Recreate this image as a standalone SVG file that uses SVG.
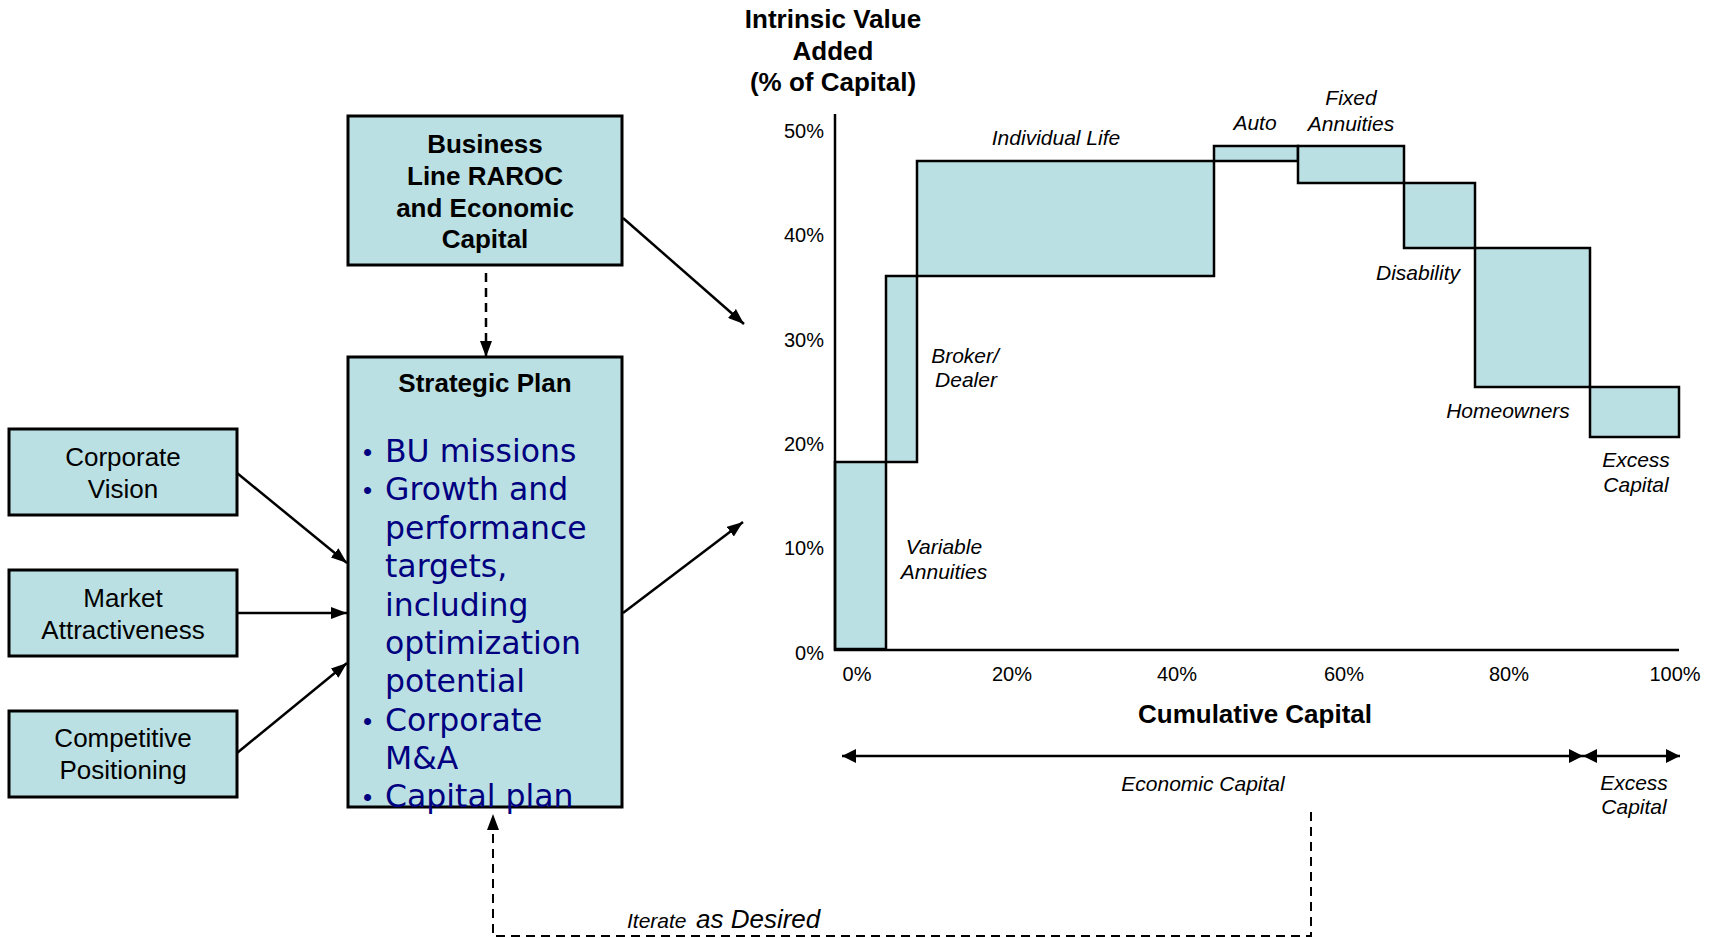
<svg xmlns="http://www.w3.org/2000/svg" width="1717" height="938" viewBox="0 0 1717 938">
<defs>
<style>
.box{fill:#BBE0E3;stroke:#000;stroke-width:3}
.bar{fill:#BBE0E3;stroke:#000;stroke-width:2.5}
.b{font-family:"Liberation Sans",Arial,sans-serif;font-weight:bold;font-size:26px;fill:#000;text-anchor:middle}
.r{font-family:"Liberation Sans",Arial,sans-serif;font-size:26px;fill:#000;text-anchor:middle}
.t{font-family:"Liberation Sans",Arial,sans-serif;font-size:20px;fill:#000}
.i{font-family:"Liberation Sans",Arial,sans-serif;font-style:italic;font-size:21px;fill:#000;text-anchor:middle}
.bl{font-family:"DejaVu Sans",Verdana,sans-serif;font-size:31.5px;fill:#000080}
.dot{font-family:"Liberation Sans",Arial,sans-serif;font-size:26px;fill:#000080}
.ln{stroke:#000;stroke-width:2.5;fill:none}
.dash{stroke:#000;stroke-width:2;fill:none;stroke-dasharray:9 6}
</style>
<marker id="ah" viewBox="0 0 16 12" refX="16" refY="6" markerWidth="16" markerHeight="12" markerUnits="userSpaceOnUse" orient="auto-start-reverse"><path d="M0,0 L16,6 L0,12 z" fill="#000"/></marker>
<marker id="ah2" viewBox="0 0 14 14" refX="14" refY="7" markerWidth="14" markerHeight="14" markerUnits="userSpaceOnUse" orient="auto-start-reverse"><path d="M0,0 L14,7 L0,14 z" fill="#000"/></marker>
</defs>

<g id="business">
<rect class="box" x="348" y="116" width="274" height="149"/>
<text class="b" x="485" y="153">Business</text>
<text class="b" x="485" y="185">Line RAROC</text>
<text class="b" x="485" y="217">and Economic</text>
<text class="b" x="485" y="248">Capital</text>
</g>

<g id="strategic">
<rect class="box" x="348" y="357" width="274" height="450"/>
<text class="b" x="485" y="392">Strategic Plan</text>
<text class="dot" x="363" y="461">•</text>
<text class="bl" x="385" y="462">BU missions</text>
<text class="dot" x="363" y="499">•</text>
<text class="bl" x="385" y="500">Growth and</text>
<text class="bl" x="385" y="539">performance</text>
<text class="bl" x="385" y="577">targets,</text>
<text class="bl" x="385" y="616">including</text>
<text class="bl" x="385" y="654">optimization</text>
<text class="bl" x="385" y="692">potential</text>
<text class="dot" x="363" y="730">•</text>
<text class="bl" x="385" y="731">Corporate</text>
<text class="bl" x="385" y="769">M&amp;A</text>
<text class="dot" x="363" y="806">•</text>
<text class="bl" x="385" y="807">Capital plan</text>
</g>

<g id="vision">
<rect class="box" x="9" y="429" width="228" height="86"/>
<text class="r" x="123" y="466">Corporate</text>
<text class="r" x="123" y="498">Vision</text>
</g>
<g id="market">
<rect class="box" x="9" y="570" width="228" height="86"/>
<text class="r" x="123" y="607">Market</text>
<text class="r" x="123" y="639">Attractiveness</text>
</g>
<g id="competitive">
<rect class="box" x="9" y="711" width="228" height="86"/>
<text class="r" x="123" y="747">Competitive</text>
<text class="r" x="123" y="779">Positioning</text>
</g>

<g id="chart">
<text class="b" x="833" y="28">Intrinsic Value</text>
<text class="b" x="833" y="60">Added</text>
<text class="b" x="833" y="91">(% of Capital)</text>
<text class="t" x="824" y="138" text-anchor="end">50%</text>
<text class="t" x="824" y="242" text-anchor="end">40%</text>
<text class="t" x="824" y="347" text-anchor="end">30%</text>
<text class="t" x="824" y="451" text-anchor="end">20%</text>
<text class="t" x="824" y="555" text-anchor="end">10%</text>
<text class="t" x="824" y="660" text-anchor="end">0%</text>
<text class="t" x="857" y="681" text-anchor="middle">0%</text>
<text class="t" x="1012" y="681" text-anchor="middle">20%</text>
<text class="t" x="1177" y="681" text-anchor="middle">40%</text>
<text class="t" x="1344" y="681" text-anchor="middle">60%</text>
<text class="t" x="1509" y="681" text-anchor="middle">80%</text>
<text class="t" x="1675" y="681" text-anchor="middle">100%</text>

<rect class="bar" x="835" y="462" width="51" height="187"/>
<rect class="bar" x="886" y="276" width="31" height="186"/>
<rect class="bar" x="917" y="161" width="297" height="115"/>
<rect class="bar" x="1214" y="146" width="84" height="15"/>
<rect class="bar" x="1298" y="146" width="106" height="37"/>
<rect class="bar" x="1404" y="183" width="71" height="65"/>
<rect class="bar" x="1475" y="248" width="115" height="139"/>
<rect class="bar" x="1590" y="387" width="89" height="50"/>
<path class="ln" d="M835,114 L835,650 L1679,650" stroke-width="3"/>

<text class="i" x="1056" y="145">Individual Life</text>
<text class="i" x="1255" y="130">Auto</text>
<text class="i" x="1351" y="105">Fixed</text>
<text class="i" x="1351" y="131">Annuities</text>
<text class="i" x="1418" y="280">Disability</text>
<text class="i" x="965" y="363">Broker/</text>
<text class="i" x="966" y="387">Dealer</text>
<text class="i" x="1508" y="418">Homeowners</text>
<text class="i" x="1636" y="467">Excess</text>
<text class="i" x="1636" y="492">Capital</text>
<text class="i" x="944" y="554">Variable</text>
<text class="i" x="944" y="579">Annuities</text>

<text class="b" x="1255" y="723">Cumulative Capital</text>
<text class="i" x="1203" y="791">Economic Capital</text>
<text class="i" x="1634" y="790">Excess</text>
<text class="i" x="1634" y="814">Capital</text>
</g>

<g id="connectors">
<line class="ln" x1="486" y1="273" x2="486" y2="357" stroke-dasharray="9 6" stroke-width="2" marker-end="url(#ah)"/>
<line class="ln" x1="237" y1="473" x2="347" y2="563" marker-end="url(#ah)"/>
<line class="ln" x1="237" y1="613" x2="347" y2="613" marker-end="url(#ah)"/>
<line class="ln" x1="237" y1="753" x2="347" y2="663" marker-end="url(#ah)"/>
<line class="ln" x1="623" y1="218" x2="744" y2="324" marker-end="url(#ah)"/>
<line class="ln" x1="623" y1="613" x2="743" y2="522" marker-end="url(#ah)"/>
<line class="ln" x1="842" y1="756" x2="1583" y2="756" marker-start="url(#ah2)" marker-end="url(#ah2)"/>
<line class="ln" x1="1583" y1="756" x2="1680" y2="756" marker-start="url(#ah2)" marker-end="url(#ah2)"/>
<path class="dash" d="M1311,812 L1311,936 L493,936 L493,814" marker-end="url(#ah)"/>
<text x="627" y="928" style="font-family:'Liberation Sans',Arial,sans-serif;font-style:italic;font-size:21px;fill:#000">Iterate</text>
<text x="696" y="928" style="font-family:'Liberation Sans',Arial,sans-serif;font-style:italic;font-size:26px;fill:#000">as Desired</text>
</g>
</svg>
